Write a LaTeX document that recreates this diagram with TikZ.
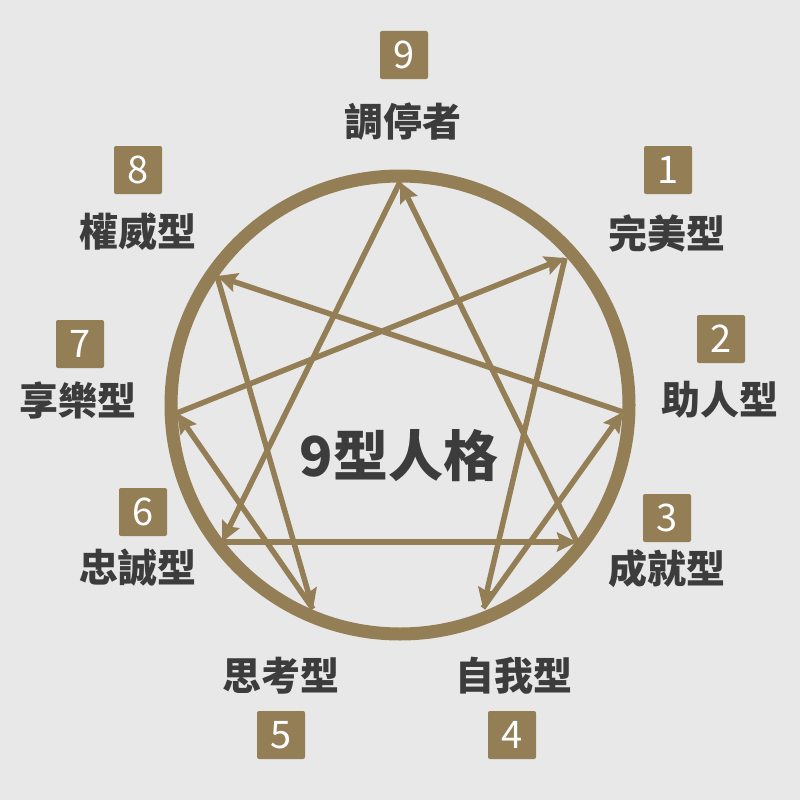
\documentclass[tikz,border=0pt]{standalone}
\usepackage{fontspec}
\setmainfont{Noto Sans CJK TC}
\usepackage{tikz}
\usetikzlibrary{arrows.meta}
\definecolor{gold}{HTML}{937E56}
\definecolor{ink}{HTML}{3C3C3C}
\definecolor{bg}{HTML}{E8E8E8}

\begin{document}
\begin{tikzpicture}[x=1pt,y=-1pt,
    numbox/.style={fill=gold,rounded corners=2pt,minimum size=48pt,inner sep=0pt,text=white,font=\fontsize{38}{38}\selectfont},
    typename/.style={text=ink,inner sep=0pt,font=\fontsize{39}{39}\selectfont\bfseries},
    arr/.style={gold,line width=5.5pt,-{Stealth[length=20pt,width=19pt,inset=3pt]}}]
    \fill[bg] (0,0) rectangle (800,800);
    \useasboundingbox (0,0) rectangle (800,800);
    \coordinate (c) at (400,405);
    \draw[gold,line width=13pt] (c) circle[radius=229pt];
    \coordinate (t9) at (400,182);
    \coordinate (t1) at (565,258);
    \coordinate (t2) at (623,412);
    \coordinate (t3) at (577,542);
    \coordinate (t4) at (483,608);
    \coordinate (t5) at (313,609);
    \coordinate (t6) at (222,542);
    \coordinate (t7) at (177,413);
    \coordinate (t8) at (217,276);
    \draw[arr] (t1) -- (t4);
    \draw[arr] (t4) -- (t2);
    \draw[arr] (t2) -- (t8);
    \draw[arr] (t8) -- (t5);
    \draw[arr] (t5) -- (t7);
    \draw[arr] (t7) -- (t1);
    \draw[arr] (t9) -- (t6);
    \draw[arr] (t6) -- (t3);
    \draw[arr] (t3) -- (t9);
    \node[numbox] (n9) at (404,55) {9};
    \node[typename] (l9) at (403,122) {調停者};
    \node[numbox] (n1) at (668,170) {1};
    \node[typename] (l1) at (667,233) {完美型};
    \node[numbox] (n2) at (721,339) {2};
    \node[typename] (l2) at (720,400) {助人型};
    \node[numbox] (n3) at (667,518) {3};
    \node[typename] (l3) at (667,569) {成就型};
    \node[typename] (l4) at (514,676) {自我型};
    \node[numbox] (n4) at (512,735) {4};
    \node[typename] (l5) at (281,676) {思考型};
    \node[numbox] (n5) at (281,735) {5};
    \node[numbox] (n6) at (143,512) {6};
    \node[typename] (l6) at (138,568) {忠誠型};
    \node[numbox] (n7) at (80,344) {7};
    \node[typename] (l7) at (78,400) {享樂型};
    \node[numbox] (n8) at (138,170) {8};
    \node[typename] (l8) at (138,232) {權威型};
    \node[text=ink,inner sep=0pt,font=\fontsize{55}{55}\selectfont\bfseries] (title) at (399,456) {9型人格};
\end{tikzpicture}
\end{document}
